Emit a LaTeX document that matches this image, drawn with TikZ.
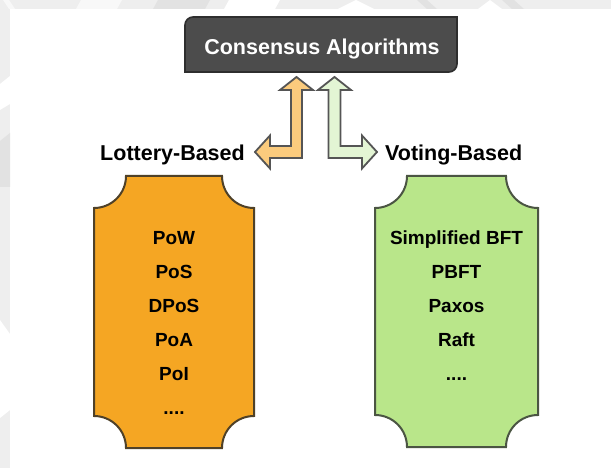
\documentclass[tikz,border=0pt]{standalone}
\usepackage{fontspec}
\setmainfont{Liberation Sans}
\definecolor{bgA}{HTML}{EEEEEE}
\definecolor{bgDark}{HTML}{E2E2E2}
\definecolor{bgLight}{HTML}{F8F8F8}
\definecolor{titlefill}{HTML}{4C4C4C}
\definecolor{titleline}{HTML}{2E2E2E}
\definecolor{orangefill}{HTML}{F5A623}
\definecolor{orangeline}{HTML}{4F4128}
\definecolor{greenfill}{HTML}{B9E68A}
\definecolor{greenline}{HTML}{4B5543}
\definecolor{orangearrow}{HTML}{FBCB7D}
\definecolor{greenarrow}{HTML}{E3F5D4}
\definecolor{arrowline}{HTML}{555555}
\begin{document}
\begin{tikzpicture}[x=1pt,y=-1pt,
  lbl/.style={font=\bfseries\fontsize{21.5}{26}\selectfont, inner sep=0pt},
  item/.style={font=\bfseries\fontsize{19}{23}\selectfont, inner sep=0pt, anchor=base},
  blockarrow/.style={draw=arrowline, line width=1.8pt, line join=miter},
  listbox/.style={line width=2pt, line join=miter}]
\useasboundingbox (0,0) rectangle (611,468);
% background
\fill[white] (0,0) rectangle (611,468);
\fill[bgA] (0,0) rectangle (611,9);
\fill[bgA] (0,0) rectangle (10,468);
\fill[bgLight] (3,0) -- (9,0) -- (15,9) -- (9,9) -- cycle;
\fill[bgLight] (76,9) -- (81,0) -- (122,0) -- (117,9) -- cycle;
\fill[bgDark] (153,9) -- (158,0) -- (210,0) -- (205,9) -- cycle;
\fill[white] (224,9) -- (229,0) -- (280,0) -- (275,9) -- cycle;
\fill[white] (338,9) -- (356,0) -- (374,9) -- cycle;
\fill[bgDark] (417,0) -- (427,0) -- (437,9) -- (427,9) -- cycle;
\fill[white] (478,9) -- (490,0) -- (502,9) -- cycle;
\fill[bgDark] (502,0) -- (514,0) -- (524,9) -- (512,9) -- cycle;
\fill[white] (0,84) -- (10,76) -- (10,104) -- (0,110) -- cycle;
\fill[bgDark] (0,141) -- (10,133) -- (10,187) -- (0,187) -- cycle;
\fill[white] (0,320) -- (10,334) -- (10,410) -- (0,418) -- cycle;

% title box
\draw[fill=titlefill, draw=titleline, line width=1.6pt]
  (185,72) -- (185,25) .. controls (185,20.6) and (188.6,17) .. (193,17)
  -- (457,17) -- (457,64) .. controls (457,68.4) and (453.4,72) .. (449,72) -- cycle;
\node[lbl, text=white, anchor=base] (title) at (322,54.3) {Consensus Algorithms};

% block arrows
\draw[blockarrow, fill=orangearrow]
  (296.5,77) -- (313,90) -- (302,90) -- (302,158) -- (270,158) -- (270,168.5)
  -- (255,152) -- (270,135.5) -- (270,146) -- (291,146) -- (291,90) -- (280,90) -- cycle;
\draw[blockarrow, fill=greenarrow]
  (334.5,77) -- (351,90) -- (340.5,90) -- (340.5,146) -- (362,146) -- (362,135.5)
  -- (377,152) -- (362,168.5) -- (362,158) -- (328.5,158) -- (328.5,90) -- (318,90) -- cycle;

% labels
\node[lbl, anchor=base east] (lottery) at (245,160.5) {Lottery-Based};
\node[lbl, anchor=base west] (voting) at (385,160.5) {Voting-Based};

% list boxes (concave corners, r = 32)
\draw[listbox, fill=orangefill, draw=orangeline]
  (94,208) .. controls (111.7,208) and (126,193.7) .. (126,176)
  -- (222,176) .. controls (222,193.7) and (236.3,208) .. (254,208)
  -- (254,416) .. controls (236.3,416) and (222,430.3) .. (222,448)
  -- (126,448) .. controls (126,430.3) and (111.7,416) .. (94,416) -- cycle;
\draw[listbox, fill=greenfill, draw=greenline]
  (375,208) .. controls (392.7,208) and (407,193.7) .. (407,176)
  -- (506,176) .. controls (506,193.7) and (520.3,208) .. (538,208)
  -- (538,415) .. controls (520.3,415) and (506,429.3) .. (506,447)
  -- (407,447) .. controls (407,429.3) and (392.7,415) .. (375,415) -- cycle;

% items
\node[item] (pow)  at (174,244) {PoW};
\node[item] (pos)  at (174,278) {PoS};
\node[item] (dpos) at (174,312) {DPoS};
\node[item] (poa)  at (174,346) {PoA};
\node[item] (poi)  at (174,380) {PoI};
\node[item] (ldots) at (174,414) {....};
\node[item] (sbft)  at (456.5,244) {Simplified BFT};
\node[item] (pbft)  at (456.5,278) {PBFT};
\node[item] (paxos) at (456.5,312) {Paxos};
\node[item] (raft)  at (456.5,346) {Raft};
\node[item] (rdots) at (456.5,380) {....};
\end{tikzpicture}
\end{document}
